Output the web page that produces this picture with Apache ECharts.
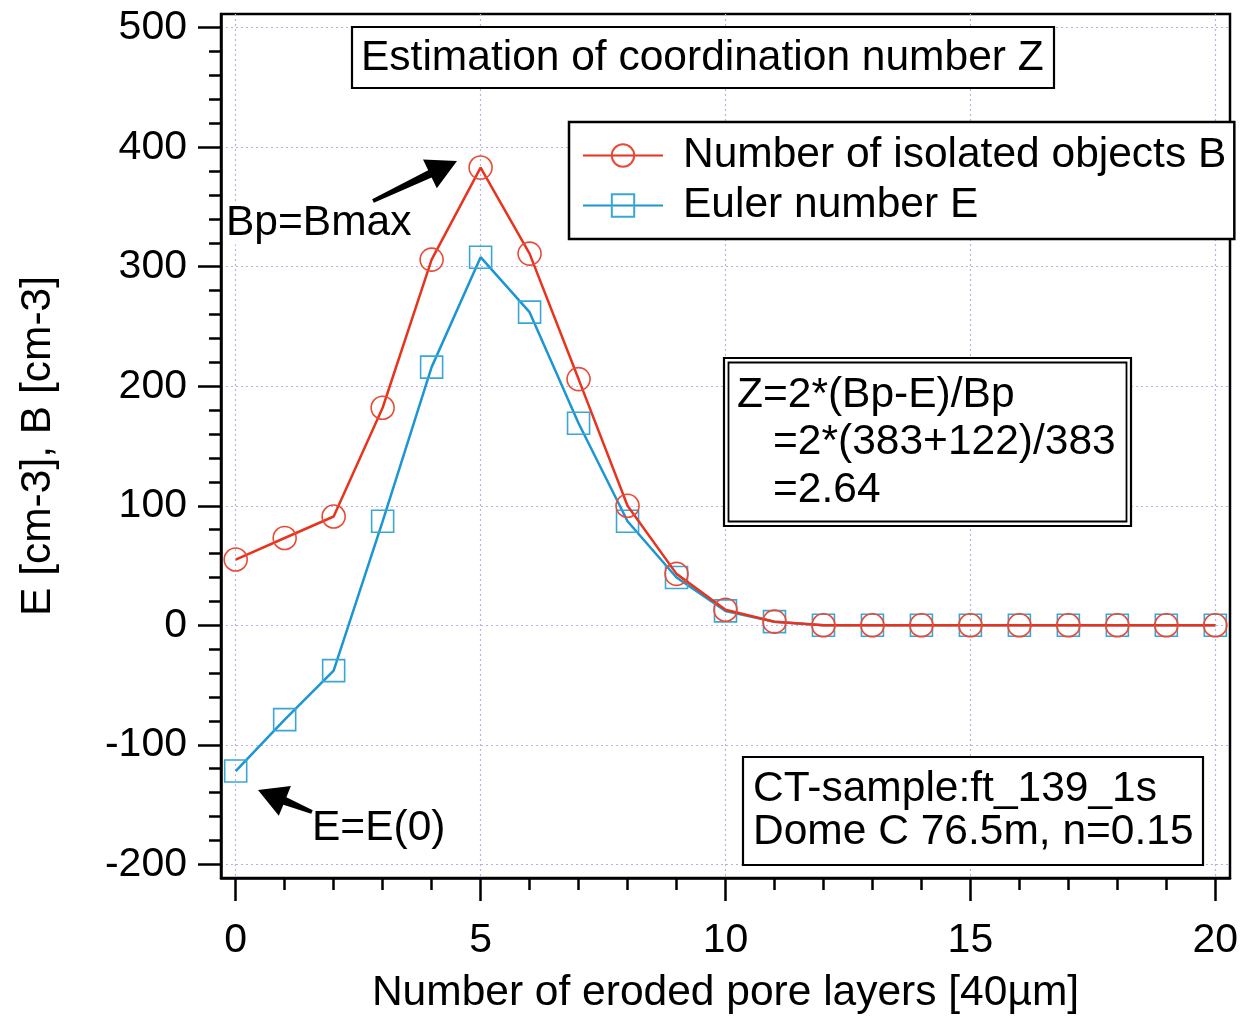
<!DOCTYPE html>
<html>
<head>
<meta charset="utf-8">
<script src="https://cdn.jsdelivr.net/npm/echarts@6/dist/echarts.min.js"></script>
<style>
  html, body { margin: 0; padding: 0; background: #fff; }
  #chart { width: 1249px; height: 1020px; }
</style>
</head>
<body>
<div id="chart"></div>
<script>
// Number of eroded pore layers (x) and the two measured quantities
const layers = [0, 1, 2, 3, 4, 5, 6, 7, 8, 9, 10, 11, 12, 13, 14, 15, 16, 17, 18, 19, 20];
const isolatedB = [55, 73, 91, 182, 306, 383, 311, 206, 100, 43, 13, 3, 0, 0, 0, 0, 0, 0, 0, 0, 0];
const eulerE = [-122, -79, -38, 87, 216, 308, 262, 169, 87, 40, 12, 3, 0, 0, 0, 0, 0, 0, 0, 0, 0];

// Axis ticks
const xMajorTicks = [0, 5, 10, 15, 20];
const xMinorTicks = [0, 1, 2, 3, 4, 5, 6, 7, 8, 9, 10, 11, 12, 13, 14, 15, 16, 17, 18, 19, 20];
const yMajorTicks = [-200, -100, 0, 100, 200, 300, 400, 500];
const yMinorTicks = [-200, -180, -160, -140, -120, -100, -80, -60, -40, -20, 0, 20, 40, 60, 80,
  100, 120, 140, 160, 180, 200, 220, 240, 260, 280, 300, 320, 340, 360, 380, 400, 420, 440, 460, 480, 500];

const nameB = 'Number of isolated objects B';
const nameE = 'Euler number E';

const FONT = '"Liberation Sans", Arial, Helvetica, sans-serif';
const TXT = 42.5;
const RED = '#e8331e';
const BLUE = '#1b96d2';
const GRIDCOL = '#b4b4e4';

const chart = echarts.init(document.getElementById('chart'), null, { renderer: 'canvas' });

function pairs(xs, ys) { return xs.map((x, i) => [x, ys[i]]); }

// filled arrow (shaft + head) from tail to tip, in pixels
function arrow(tail, tip, headLen, headHalf, shaftHalf) {
  const dx = tip[0] - tail[0], dy = tip[1] - tail[1];
  const len = Math.hypot(dx, dy);
  const ux = dx / len, uy = dy / len;
  const nx = -uy, ny = ux;
  const bx = tip[0] - ux * headLen, by = tip[1] - uy * headLen;
  return {
    type: 'polygon', z: 120, silent: true,
    shape: { points: [
      [tail[0] + nx * shaftHalf * 0.5, tail[1] + ny * shaftHalf * 0.5],
      [bx + nx * shaftHalf, by + ny * shaftHalf],
      [bx + nx * headHalf, by + ny * headHalf],
      tip,
      [bx - nx * headHalf, by - ny * headHalf],
      [bx - nx * shaftHalf, by - ny * shaftHalf],
      [tail[0] - nx * shaftHalf * 0.5, tail[1] - ny * shaftHalf * 0.5]
    ] },
    style: { fill: '#000' }
  };
}

function label(text, x, y, opts) {
  return Object.assign({
    type: 'text', z: 110, silent: true, x: x, y: y,
    style: Object.assign({
      text: text, font: TXT + 'px ' + FONT, fill: '#000',
      align: 'left', verticalAlign: 'middle'
    }, (opts && opts.style) || {})
  }, (opts && opts.el) || {});
}

function box(x, y, w, h, lw) {
  return {
    type: 'rect', z: 100, silent: true,
    shape: { x: x, y: y, width: w, height: h },
    style: { fill: '#fff', stroke: '#000', lineWidth: lw }
  };
}

const option = {
  animation: false,
  backgroundColor: '#fff',
  grid: {
    left: 221, top: 14, width: 1009, height: 868,
    show: true, borderColor: '#000', borderWidth: 2.5, backgroundColor: 'transparent',
    containLabel: false
  },
  legend: {
    left: 569, top: 122, orient: 'vertical',
    data: [nameB, nameE],
    itemWidth: 80, itemHeight: 28, itemGap: 7,
    padding: [12, 8, 12, 13],
    backgroundColor: '#fff', borderColor: '#000', borderWidth: 2.5,
    textStyle: { fontSize: TXT, fontFamily: FONT, color: '#000', padding: [0, 0, 0, 15] }
  },
  xAxis: [
    {
      type: 'value', min: -0.3, max: 20.3, position: 'bottom',
      axisLine: { show: true, onZero: false, lineStyle: { color: '#000', width: 2.5 } },
      axisTick: { show: true, inside: false, length: 23, customValues: xMajorTicks,
        lineStyle: { color: '#000', width: 2.5 } },
      axisLabel: { show: true, customValues: xMajorTicks, margin: 42, fontSize: 41,
        fontFamily: FONT, color: '#000' },
      splitLine: { show: true, lineStyle: { type: [2, 3], color: GRIDCOL, width: 1.2 } },
      name: 'Number of eroded pore layers [40µm]', nameLocation: 'middle', nameGap: 94,
      nameTextStyle: { fontSize: TXT, fontFamily: FONT, color: '#000' }
    },
    {
      type: 'value', min: -0.3, max: 20.3, position: 'bottom',
      axisLine: { show: false, onZero: false },
      axisTick: { show: true, inside: false, length: 12, customValues: xMinorTicks,
        lineStyle: { color: '#000', width: 2.5 } },
      axisLabel: { show: false },
      splitLine: { show: false }
    }
  ],
  yAxis: [
    {
      type: 'value', min: -211.5, max: 511.5, position: 'left',
      axisLine: { show: true, onZero: false, lineStyle: { color: '#000', width: 2.5 } },
      axisTick: { show: true, inside: false, length: 23, customValues: yMajorTicks,
        lineStyle: { color: '#000', width: 2.5 } },
      axisLabel: { show: true, customValues: yMajorTicks, margin: 34, fontSize: 41,
        fontFamily: FONT, color: '#000' },
      splitLine: { show: true, lineStyle: { type: [2, 3], color: GRIDCOL, width: 1.2 } },
      name: 'E [cm-3], B [cm-3]', nameLocation: 'middle', nameGap: 161,
      nameTextStyle: { fontSize: TXT, fontFamily: FONT, color: '#000' }
    },
    {
      type: 'value', min: -211.5, max: 511.5, position: 'left',
      axisLine: { show: false, onZero: false },
      axisTick: { show: true, inside: false, length: 12, customValues: yMinorTicks,
        lineStyle: { color: '#000', width: 2.5 } },
      axisLabel: { show: false },
      splitLine: { show: false }
    }
  ],
  series: [
    {
      name: nameE, type: 'line', xAxisIndex: 0, yAxisIndex: 0,
      data: pairs(layers, eulerE),
      symbol: 'rect', symbolSize: 22, showAllSymbol: true,
      lineStyle: { color: BLUE, width: 2.5 },
      itemStyle: { color: 'rgba(255,255,255,0)', borderColor: '#3aa6d6', borderWidth: 1.6 },
      color: BLUE, z: 3
    },
    {
      name: nameB, type: 'line', xAxisIndex: 0, yAxisIndex: 0,
      data: pairs(layers, isolatedB),
      symbol: 'circle', symbolSize: 23, showAllSymbol: true,
      lineStyle: { color: RED, width: 2.5 },
      itemStyle: { color: 'rgba(255,255,255,0)', borderColor: '#e84a36', borderWidth: 1.6 },
      color: RED, z: 4
    }
  ],
  graphic: { elements: [
    // title box
    box(352, 27, 702, 61, 2.2),
    label('Estimation of coordination number Z', 361, 58),
    // formula box (double frame)
    box(724, 358, 407, 168, 2.2),
    { type: 'rect', z: 101, silent: true, shape: { x: 728.5, y: 362.5, width: 398, height: 159 },
      style: { fill: 'none', stroke: '#000', lineWidth: 1.8 } },
    label('Z=2*(Bp-E)/Bp', 737, 395),
    label('=2*(383+122)/383', 773, 442),
    label('=2.64', 773, 490),
    // sample box
    box(743, 757, 460, 108, 2.2),
    label('CT-sample:ft_139_1s', 753, 789),
    label('Dome C 76.5m, n=0.15', 753, 832),
    // annotations
    label('Bp=Bmax', 226, 223, { style: { backgroundColor: '#fff' } }),
    arrow([373, 201], [457, 161], 30, 16, 4),
    label('E=E(0)', 312, 828),
    arrow([312, 812], [258, 790], 29, 16, 4)
  ] }
};

chart.setOption(option);
</script>
</body>
</html>
